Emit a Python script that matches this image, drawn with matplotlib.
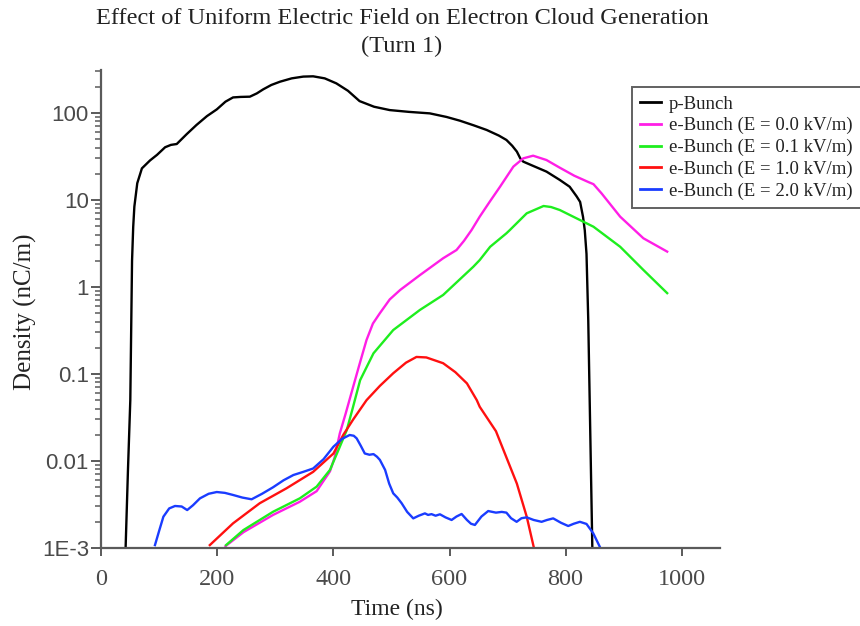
import matplotlib
matplotlib.use("Agg")
import matplotlib.pyplot as plt
from matplotlib.ticker import FixedLocator, FixedFormatter, LogLocator, NullFormatter

# ---- data (time in ns, density in nC/m) ----
p_t = [42, 46, 50, 53, 55, 57, 62, 70, 84, 96, 110, 120, 130, 147, 164, 182, 199,
       214, 227, 240, 256, 268, 279, 293, 308, 328, 348, 365, 385, 405, 425, 445,
       470, 497, 530, 566, 595, 618, 642, 664, 685, 698, 708, 716, 722, 727, 745,
       767, 790, 807, 819, 825, 830, 833, 836, 839, 846]
p_v = [0.00105, 0.008, 0.05, 2.0, 4.9, 8.4, 15.6, 23.1, 28.5, 33, 40.4, 43, 44, 57,
       72.8, 92, 110, 135, 151, 153, 154, 168, 187, 210, 229, 250, 262, 264, 250,
       219, 180, 137, 118, 108, 103, 99, 90, 81.5, 72, 63.8, 55, 49, 42, 36, 30,
       27.6, 24.5, 21.2, 17, 14.2, 11, 9.5, 6.4, 4.5, 2.4, 0.42, 0.00103]

e00_t = [214, 245, 296, 342, 371, 394, 402, 411, 421, 434, 445, 457, 468, 480, 497,
         515, 549, 589, 612, 625, 638, 652, 669, 687, 710, 727, 744, 767, 790, 815,
         840, 848, 862, 894, 934, 975]
e00_v = [0.00105, 0.00152, 0.0024, 0.0034, 0.0045, 0.0076, 0.011, 0.0208, 0.035,
         0.0714, 0.13, 0.246, 0.38, 0.50, 0.72, 0.925, 1.37, 2.14, 2.66, 3.4, 4.52,
         6.43, 9.5, 14.2, 24.2, 30.1, 32.3, 28.8, 23.5, 19, 16, 15.2, 11.9, 6.43,
         3.63, 2.55]

e01_t = [215, 245, 296, 342, 371, 394, 411, 423, 433, 446, 469, 503, 549, 589, 641,
         652, 670, 698, 704, 733, 762, 775, 790, 836, 848, 894, 934, 975]
e01_v = [0.00108, 0.00161, 0.00261, 0.00372, 0.00507, 0.0079, 0.0146, 0.0227, 0.04,
         0.085, 0.173, 0.32, 0.545, 0.81, 1.71, 2.04, 2.9, 4.14, 4.52, 7.03, 8.53,
         8.3, 7.67, 5.4, 4.93, 2.9, 1.57, 0.85]

e10_t = [187, 227, 273, 319, 365, 400, 417, 434, 457, 480, 503, 525, 543, 560, 589,
         610, 630, 647, 652, 680, 716, 733, 745]
e10_v = [0.00108, 0.00192, 0.00327, 0.00485, 0.0075, 0.0122, 0.0200, 0.030, 0.050,
         0.073, 0.102, 0.135, 0.157, 0.155, 0.133, 0.105, 0.078, 0.05, 0.042, 0.022,
         0.0055, 0.00229, 0.00103]

e20_t = [92.5, 100, 107, 117, 127, 138.5, 148, 158, 170, 185, 199, 213, 227, 243, 259,
         277, 296, 314, 331, 348, 365, 383, 400, 415, 428, 435, 440, 447, 454, 462,
         469, 475, 480, 489, 496, 503, 510, 517.5, 527, 537.5, 547, 557.6, 563, 569,
         576, 583.5, 593, 603.6, 612, 620.8, 630, 637, 643.7, 655, 666.6, 680, 690,
         698, 706, 715.6, 724, 733, 745, 758.6, 768, 778.6, 792, 804.5, 814, 824.6,
         836, 847.5, 859]
e20_v = [0.00108, 0.0016, 0.00229, 0.00285, 0.00304, 0.0030, 0.00273, 0.0031, 0.00372,
         0.0042, 0.0044, 0.0043, 0.00407, 0.0038, 0.00363, 0.0042, 0.00499, 0.0060,
         0.0069, 0.0075, 0.0082, 0.0105, 0.0146, 0.018, 0.0199, 0.0195, 0.0182,
         0.015, 0.0122, 0.0118, 0.012, 0.0112, 0.0103, 0.0079, 0.0055, 0.00425,
         0.0038, 0.00327, 0.0026, 0.00219, 0.00235, 0.0025, 0.0024, 0.00245, 0.00235,
         0.00244, 0.00225, 0.0021, 0.0023, 0.00246, 0.0021, 0.0019, 0.00184, 0.0023,
         0.00266, 0.00255, 0.0026, 0.00255, 0.0022, 0.0020, 0.0022, 0.00225, 0.0021,
         0.0020, 0.0021, 0.00219, 0.00195, 0.00179, 0.0019, 0.0020, 0.00189, 0.00148,
         0.00103]

series = [
    (p_t, p_v, "#000000", "p-Bunch"),
    (e00_t, e00_v, "#ff1ee6", "e-Bunch (E = 0.0 kV/m)"),
    (e01_t, e01_v, "#1eee1e", "e-Bunch (E = 0.1 kV/m)"),
    (e10_t, e10_v, "#ff1010", "e-Bunch (E = 1.0 kV/m)"),
    (e20_t, e20_v, "#1a3cff", "e-Bunch (E = 2.0 kV/m)"),
]

x_ticks = [0, 200, 400, 600, 800, 1000]
x_tick_labels = ["0", "200", "400", "600", "800", "1000"]
y_ticks = [1e-3, 1e-2, 1e-1, 1, 10, 100]
y_tick_labels = ["1E-3", "0.01", "0.1", "1", "10", "100"]

SERIF = ["Liberation Serif", "DejaVu Serif"]
SANS = ["Liberation Sans", "DejaVu Sans"]
AXIS_GRAY = "#5a5a5a"

fig = plt.figure(figsize=(8.6, 6.26), dpi=100)
ax = fig.add_axes([100.7 / 860, 78 / 626, 619.3 / 860, 478 / 626])

for t, v, c, lab in series:
    ax.plot(t, v, color=c, lw=1.7, label=lab, solid_joinstyle="round")

ax.set_yscale("log")
ax.set_xlim(-1, 1066)
ax.set_ylim(1e-3, 312)

ax.xaxis.set_major_locator(FixedLocator(x_ticks))
ax.xaxis.set_major_formatter(FixedFormatter(x_tick_labels))
ax.yaxis.set_major_locator(FixedLocator(y_ticks))
ax.yaxis.set_major_formatter(FixedFormatter(y_tick_labels))
ax.yaxis.set_minor_locator(LogLocator(base=10, subs=range(2, 10)))
ax.yaxis.set_minor_formatter(NullFormatter())

for s in ("top", "right"):
    ax.spines[s].set_visible(False)
for s in ("left", "bottom"):
    ax.spines[s].set_color(AXIS_GRAY)
    ax.spines[s].set_linewidth(1.6)

ax.tick_params(axis="y", which="major", length=7.5, width=1.4, color=AXIS_GRAY,
               pad=1, labelcolor="#4a4a4a")
ax.tick_params(axis="y", which="minor", length=4.3, width=1.1, color=AXIS_GRAY)
ax.tick_params(axis="x", which="major", length=6, width=1.4, color=AXIS_GRAY,
               pad=9, labelcolor="#4a4a4a")
for lbl in ax.get_yticklabels():
    lbl.set_fontfamily(SANS)
    lbl.set_fontsize(16)
for lbl in ax.get_xticklabels():
    lbl.set_fontfamily(SERIF)
    lbl.set_fontsize(17.5)

fig.text(402 / 860, 1 - 18 / 626, "Effect of Uniform Electric Field on Electron Cloud Generation",
         ha="center", va="center", family=SERIF, fontsize=17.6, color="#222222")
fig.text(402 / 860, 1 - 46 / 626, "(Turn 1)",
         ha="center", va="center", family=SERIF, fontsize=17.6, color="#222222")
fig.text(25 / 860, 1 - 312 / 626, "Density (nC/m)", rotation=90,
         ha="center", va="center", family=SERIF, fontsize=18, color="#222222")
fig.text(397 / 860, 1 - 609 / 626, "Time (ns)",
         ha="center", va="center", family=SERIF, fontsize=17, color="#222222")

leg = fig.legend(loc="upper left", bbox_to_anchor=(632 / 860, 1 - 87 / 626),
                 prop={"family": SERIF, "size": 13.5}, frameon=True, fancybox=False,
                 handlelength=1.1, handletextpad=0.4, borderpad=0.45,
                 labelspacing=0.24, borderaxespad=0)
leg.get_frame().set_edgecolor("#3a3a3a")
leg.get_frame().set_linewidth(1.4)
for line in leg.get_lines():
    line.set_linewidth(2.0)
for txt in leg.get_texts():
    txt.set_color("#222222")

fig.savefig("out.png", dpi=100)
